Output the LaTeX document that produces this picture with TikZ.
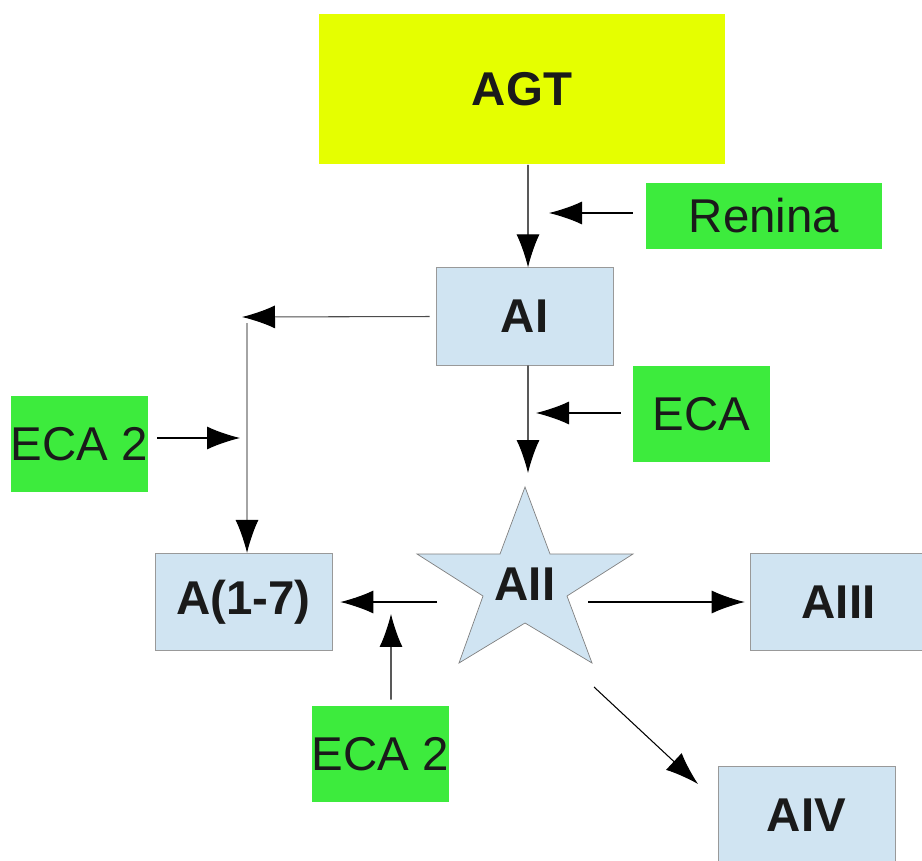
\documentclass[tikz,border=0pt]{standalone}
\usepackage{fontspec}
\setmainfont{Liberation Sans}
\usetikzlibrary{arrows.meta,positioning}
\definecolor{agtyellow}{RGB}{229,255,0}
\definecolor{enzgreen}{RGB}{61,235,61}
\definecolor{pepblue}{RGB}{208,228,242}
\definecolor{inkblack}{RGB}{26,26,26}

\begin{document}
\begin{tikzpicture}[x=0.02cm,y=-0.02cm]
  \tikzset{pep box/.style={draw=black!40,fill=pepblue,text=inkblack,minimum width=3.54cm,minimum height=1.95cm,font=\fontsize{27}{32}\selectfont\bfseries},
           enz box/.style={fill=enzgreen,text=inkblack,inner sep=0pt,minimum width=2.74cm,minimum height=1.92cm,font=\fontsize{27}{32}\selectfont},
           conv/.style={-{Latex[length=0.66cm,width=0.46cm,color=black]},line width=0.6pt}}
  \useasboundingbox (0,0) rectangle (922,861);

  \node (AGT) [fill=agtyellow,text=inkblack,minimum width=8.12cm,minimum height=3.02cm,font=\fontsize{27}{32}\selectfont\bfseries] at (522,89) {AGT};
  \node (Ren) [enz box,minimum width=4.72cm,minimum height=1.32cm] at (764,216) {Renina};
  \node (AI) [pep box] at (524.5,316.5) {AI};
  \node (ECA) [enz box] at (701.5,414) {ECA};
  \node (ECAa) [enz box] at (79.5,444) {ECA 2};
  \node (A17) [pep box] at (243.5,602) {A(1-7)};
  \node (AIII) [pep box] at (838.5,602) {AIII};
  \node (AIV) [pep box] at (806.5,815) {AIV};
  \node (ECAb) [enz box] at (380.5,754) {ECA 2};

  % star for AII
  \draw[draw=black!50,fill=pepblue] (525,487) -- (550,554) -- (633,554) -- (567,596) -- (592,663) -- (525,623)
        -- (459,663) -- (483,596) -- (417,554) -- (500,554) -- cycle;
  \node (AII) [text=inkblack,font=\fontsize{27}{32}\selectfont\bfseries] at (525,584) {AII};

  \coordinate (tipRen) at (549,213);
  \coordinate (tipAII) at (528,473);
  \coordinate (tipECA) at (536,413);
  \coordinate (tipL) at (242,317);
  \coordinate (cornerL) at (247,323);
  \coordinate (tipE) at (240,438);
  \coordinate (tipB) at (391,614);
  \coordinate (sL) at (437,602);
  \coordinate (sR) at (588,602);
  \coordinate (sD) at (594,687);
  \coordinate (tipIV) at (698,784);

  \draw[conv] ([xshift=0.12cm]AGT.south) -- ([xshift=0.07cm]AI.north);
  \draw[conv,shorten <=0.26cm] (Ren.west |- tipRen) -- (tipRen);
  \draw[conv] ([xshift=0.07cm]AI.south) -- (tipAII);
  \draw[conv,shorten <=0.24cm] (ECA.west |- tipECA) -- (tipECA);
  \draw[conv,draw=black!70,shorten <=0.12cm] (AI.west) -- (tipL);
  \draw[conv,draw=black!55] (cornerL) -- ([xshift=0.07cm]A17.north);
  \draw[conv,shorten <=0.18cm] (ECAa.east |- tipE) -- (tipE);
  \draw[conv,shorten >=0.16cm] (sL) -- (A17.east);
  \draw[conv,shorten <=0.12cm] ([xshift=0.21cm]ECAb.north) -- (tipB);
  \draw[conv,shorten >=0.1cm] (sR) -- (AIII.west);
  \draw[conv] (sD) -- (tipIV);
\end{tikzpicture}
\end{document}
